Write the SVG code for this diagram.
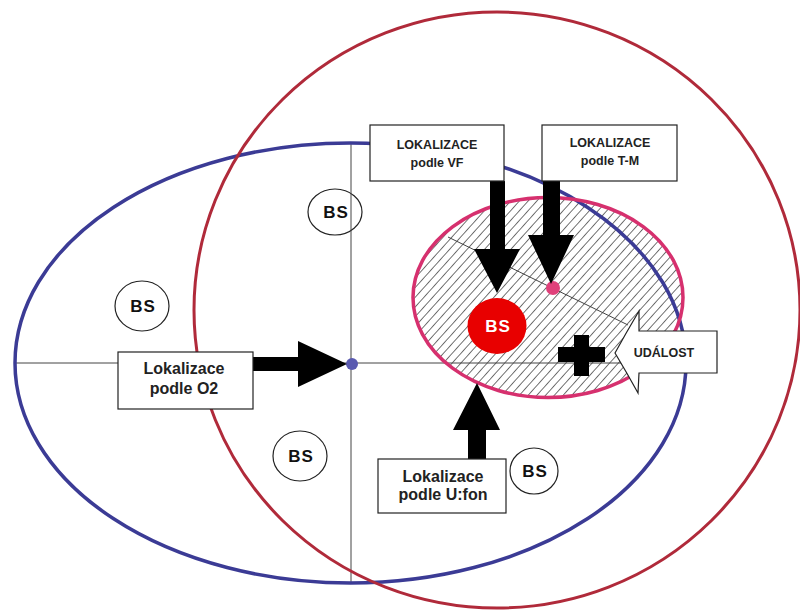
<svg xmlns="http://www.w3.org/2000/svg" width="800" height="610" viewBox="0 0 800 610">
<defs>
<pattern id="hatch" width="6.5" height="6.5" patternUnits="userSpaceOnUse" patternTransform="rotate(42)">
<line x1="0" y1="-1" x2="0" y2="8" stroke="#000" stroke-width="1.1"/>
</pattern>
</defs>
<style>
.box{fill:#fff;stroke:#222;stroke-width:1.2}
.bs{fill:#fff;stroke:#222;stroke-width:1.2}
.bst{font-family:"Liberation Sans",Arial,sans-serif;font-weight:bold;font-size:17px;fill:#111;text-anchor:middle;letter-spacing:1px}
.cap{font-family:"Liberation Sans",Arial,sans-serif;font-weight:bold;font-size:12.5px;fill:#222;text-anchor:middle}
.lbl{font-family:"Liberation Sans",Arial,sans-serif;font-weight:bold;font-size:16px;fill:#222;text-anchor:middle}
.arrow{fill:#000}
.axis{stroke:#444;stroke-width:1;fill:none}
</style>
<rect width="800" height="610" fill="#fff"/>

<g id="zone-hatched">
<ellipse cx="548" cy="297.5" rx="135" ry="100" fill="#fff"/>
<ellipse cx="548" cy="297.5" rx="135" ry="100" fill="url(#hatch)"/>
</g>

<g id="bs-nodes">
<g id="bs1"><ellipse class="bs" cx="335" cy="212" rx="27" ry="23"/><text class="bst" x="336" y="218">BS</text></g>
<g id="bs2"><ellipse class="bs" cx="142" cy="306" rx="27" ry="25"/><text class="bst" x="143" y="312">BS</text></g>
<g id="bs3"><ellipse class="bs" cx="300" cy="456" rx="27" ry="25"/><text class="bst" x="301" y="462">BS</text></g>
<g id="bs4"><ellipse class="bs" cx="534" cy="471" rx="24" ry="23"/><text class="bst" x="535" y="477">BS</text></g>
</g>

<g id="axes">
<line class="axis" x1="15" y1="363" x2="684" y2="363"/>
<line class="axis" x1="351" y1="143" x2="351" y2="583"/>
<line class="axis" x1="448" y1="237" x2="628" y2="325" stroke="#111"/>
</g>

<g id="zone-blue">
<ellipse cx="350.5" cy="363" rx="335.5" ry="220" fill="none" stroke="#3b3b95" stroke-width="3.5"/>
</g>
<g id="zone-red">
<ellipse cx="497" cy="310" rx="303" ry="298" fill="none" stroke="#b02a3a" stroke-width="3"/>
</g>
<g id="zone-pink">
<ellipse cx="548" cy="297.5" rx="135" ry="100" fill="none" stroke="#d6306e" stroke-width="3.5"/>
</g>

<g id="points">
<circle id="dot-blue" cx="352" cy="364" r="6" fill="#5a5ab0"/>
<circle id="dot-pink" cx="553" cy="288" r="7" fill="#e0407a"/>
<g id="bs-red"><ellipse cx="497" cy="326" rx="29.5" ry="28" fill="#e80000"/><text class="bst" x="498" y="332" style="fill:#fff">BS</text></g>
<g id="event-cross">
<rect x="558" y="347" width="47" height="15" fill="#000"/>
<rect x="574" y="335" width="15" height="41" fill="#000"/>
</g>
</g>

<g id="connectors">
<polygon class="arrow" points="490,181 505,181 505,249 520,249 497,293 474,249 490,249"/>
<polygon class="arrow" points="543,181 560,181 560,235 574,235 551,284 528,235 543,235"/>
<polygon class="arrow" points="253,357 298,357 298,341 347,364 298,387 298,371 253,371"/>
<polygon class="arrow" points="468,459 468,430 453,430 477,383 500,430 486,430 486,459"/>
</g>

<g id="box-vf">
<rect class="box" x="370" y="125" width="134" height="56"/>
<text class="cap" x="437" y="149">LOKALIZACE</text>
<text class="cap" x="437" y="167">podle VF</text>
</g>
<g id="box-tm">
<rect class="box" x="542" y="125" width="135" height="56"/>
<text class="cap" x="610" y="147" style="font-weight:600">LOKALIZACE</text>
<text class="cap" x="610" y="165" style="font-weight:600">podle T-M</text>
</g>
<g id="box-o2">
<rect class="box" x="118" y="352" width="135" height="57"/>
<text class="lbl" x="184" y="374">Lokalizace</text>
<text class="lbl" x="184" y="394">podle O2</text>
</g>
<g id="box-ufon">
<rect class="box" x="378" y="459" width="128" height="54"/>
<text class="lbl" x="443" y="482">Lokalizace</text>
<text class="lbl" x="443" y="500">podle U:fon</text>
</g>
<g id="event">
<path d="M717,331 L639,331 L639,311 Q626,333 615,353 Q627,373 638,393 L639,373 L717,373 Z" fill="#fff" stroke="#222" stroke-width="1.2"/>
<text class="cap" x="664" y="357">UDÁLOST</text>
</g>
</svg>
